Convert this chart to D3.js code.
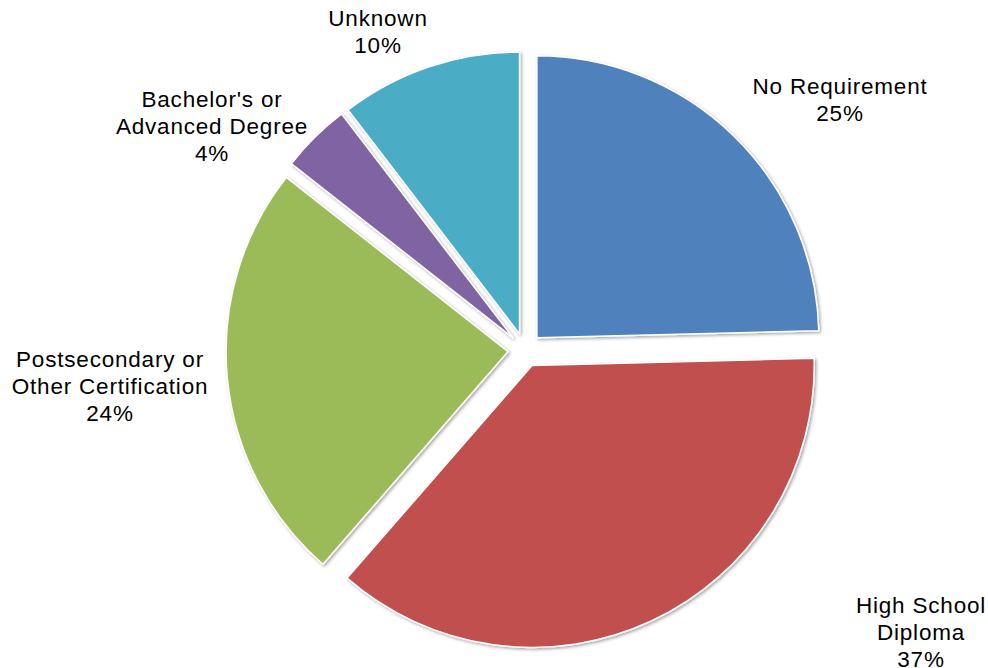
<!DOCTYPE html>
<html>
<head>
<meta charset="utf-8">
<script src="https://cdn.jsdelivr.net/npm/d3@7"></script>
<style>
  html, body { margin: 0; padding: 0; background: #fff; }
  svg { display: block; }
  text { font-family: "Liberation Sans", Arial, sans-serif; font-size: 22.5px; letter-spacing: 0.8px; fill: #000; }
</style>
</head>
<body>
<svg id="chart" width="988" height="668"></svg>
<script>
// Data
const categories = ["No Requirement", "High School Diploma", "Postsecondary or Other Certification", "Bachelor's or Advanced Degree", "Unknown"];
const values = [24.6, 36.8, 24.2, 4.0, 10.4];
const percentLabels = ["25%", "37%", "24%", "4%", "10%"];
const labelLines = [
  ["No Requirement"],
  ["High School", "Diploma"],
  ["Postsecondary or", "Other Certification"],
  ["Bachelor's or", "Advanced Degree"],
  ["Unknown"]
];
const colors = ["#4F81BD", "#C0504D", "#9BBB59", "#8064A2", "#4BACC6"];

// Layout
const cx = 525, cy = 350, radius = 282, explode = 17, lineH = 27;
const labelPos = [
  {x: 840, y: 94},
  {x: 921, y: 613},
  {x: 110, y: 367},
  {x: 212, y: 107},
  {x: 378, y: 26}
];

const svg = d3.select("#chart");
const defs = svg.append("defs");
const f = defs.append("filter").attr("id", "shadow").attr("x", "-10%").attr("y", "-10%").attr("width", "120%").attr("height", "120%");
f.append("feDropShadow").attr("dx", 1.5).attr("dy", 1.5).attr("stdDeviation", 1.5).attr("flood-color", "#000").attr("flood-opacity", 0.35);

const data = categories.map((c, i) => ({cat: c, value: values[i], i}));
const pie = d3.pie().value(d => d.value).sort(null).startAngle(0).endAngle(2 * Math.PI);
const arc = d3.arc().innerRadius(0).outerRadius(radius);
const arcs = pie(data);

const g = svg.append("g").attr("transform", `translate(${cx},${cy})`);
g.selectAll("path.slice").data(arcs).enter().append("path")
  .attr("class", "slice")
  .attr("d", arc)
  .attr("fill", d => colors[d.data.i])
  .attr("stroke", "#fff")
  .attr("stroke-width", 1.5)
  .attr("stroke-linejoin", "round")
  .attr("filter", "url(#shadow)")
  .attr("transform", d => {
    const a = (d.startAngle + d.endAngle) / 2;
    return `translate(${explode * Math.sin(a)},${-explode * Math.cos(a)})`;
  });

const labels = svg.append("g");
data.forEach((d, i) => {
  const lines = labelLines[i].concat([percentLabels[i]]);
  const t = labels.append("text").attr("text-anchor", "middle");
  lines.forEach((ln, k) => {
    t.append("tspan").attr("x", labelPos[i].x).attr("y", labelPos[i].y + k * lineH).text(ln);
  });
});
</script>
</body>
</html>
